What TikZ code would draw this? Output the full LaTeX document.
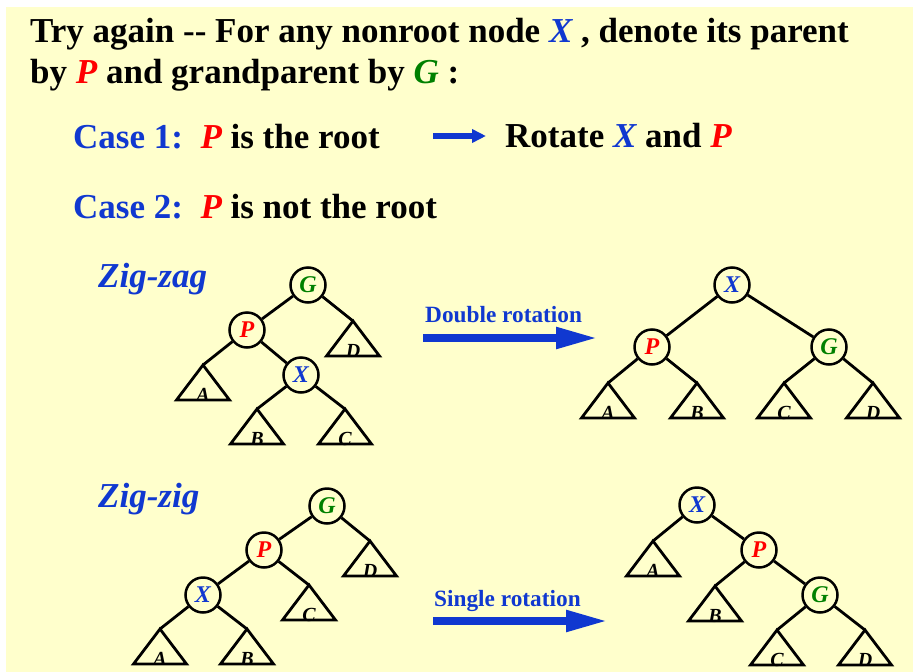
\documentclass[tikz,border=0pt]{standalone}
\usepackage{fontspec}
\setmainfont{Liberation Serif}
\usetikzlibrary{arrows.meta,positioning}
\definecolor{slideyellow}{RGB}{255,255,204}
\definecolor{caseblue}{RGB}{16,56,208}
\definecolor{pred}{RGB}{255,0,0}
\definecolor{ggreen}{RGB}{0,128,0}
\newcommand{\vX}{{\color{caseblue}\itshape X}}
\newcommand{\vP}{{\color{pred}\itshape P}}
\newcommand{\vG}{{\color{ggreen}\itshape G}}
% subtree triangle: name, apex, label
\newcommand{\subtri}[3]{%
  \coordinate (#1) at #2;
  \draw[tline] (#1) -- ++(-26.5,35) -- ++(53,0) -- cycle;
  \path (#1) ++(0,36) node[tlab] (#1-lab) {#3};
}

\begin{document}
\begin{tikzpicture}[x=1pt, y=-1pt,
  txt/.style={anchor=base west, inner sep=0pt, font=\bfseries\fontsize{35}{42}\selectfont},
  zlab/.style={anchor=base west, inner sep=0pt, text=caseblue, font=\bfseries\itshape\fontsize{35}{42}\selectfont},
  vtx/.style={circle, draw, line width=2.5pt, minimum size=35pt, inner sep=0pt, font=\bfseries\itshape\fontsize{24}{24}\selectfont},
  tline/.style={line width=2.8pt},
  tlab/.style={anchor=base, inner sep=0pt, font=\bfseries\itshape\fontsize{20}{20}\selectfont},
  rot/.style={draw=caseblue, line width=8pt, -{Triangle[length=42pt,width=20pt]}},
  rotlab/.style={anchor=base west, inner sep=0pt, text=caseblue, font=\bfseries\fontsize{23.3}{28}\selectfont},
]
\useasboundingbox (0,0) rectangle (913,672);
\fill[white] (0,0) rectangle (913,672);
\fill[slideyellow] (6,7) rectangle (913,672);

\node[txt] (title1) at (30,42) {Try again -{}- For any nonroot node \vX\ , denote its parent};
\node[txt] (title2) at (30,83) {by \vP\ and grandparent by \vG\ :};
\node[txt] (case1) at (73,148) {{\color{caseblue}Case 1:}\ \ \vP\ is the root};
\coordinate (c1s) at (433,136);
\coordinate (c1e) at (486,136);
\draw[draw=caseblue, line width=6pt, -{Triangle[length=14pt,width=13pt]}] (c1s) -- (c1e);
\node[txt] (rotxp) at (505,147) {Rotate \vX\ and \vP};
\node[txt] (case2) at (73,218) {{\color{caseblue}Case 2:}\ \ \vP\ is not the root};

% zig-zag
\node[zlab] (zzlab) at (98,287) {Zig-zag};
\node[vtx] (zzG) at (308,285) {\vG};
\node[vtx] (zzP) at (247,330) {\vP};
\node[vtx] (zzX) at (301,375) {\vX};
\subtri{zzD}{(353,321)}{D}
\subtri{zzA}{(203,365)}{A}
\subtri{zzB}{(257,409)}{B}
\subtri{zzC}{(345,409)}{C}
\draw[tline] (zzG) -- (zzP);
\draw[tline] (zzG) -- (zzD);
\draw[tline] (zzP) -- (zzA);
\draw[tline] (zzP) -- (zzX);
\draw[tline] (zzX) -- (zzB);
\draw[tline] (zzX) -- (zzC);

\coordinate (drs) at (423,338);
\coordinate (dre) at (598,338);
\draw[rot] (drs) -- (dre);
\node[rotlab] (drlab) at (425,322) {Double rotation};

\node[vtx] (dzX) at (732,285) {\vX};
\node[vtx] (dzP) at (652,347) {\vP};
\node[vtx] (dzG) at (829,347) {\vG};
\subtri{dzA}{(608,383)}{A}
\subtri{dzB}{(697,383)}{B}
\subtri{dzC}{(784,383)}{C}
\subtri{dzD}{(873,383)}{D}
\draw[tline] (dzX) -- (dzP);
\draw[tline] (dzX) -- (dzG);
\draw[tline] (dzP) -- (dzA);
\draw[tline] (dzP) -- (dzB);
\draw[tline] (dzG) -- (dzC);
\draw[tline] (dzG) -- (dzD);

% zig-zig
\node[zlab] (zilab) at (98,507) {Zig-zig};
\node[vtx] (ziG) at (327,506) {\vG};
\node[vtx] (ziP) at (264,550) {\vP};
\node[vtx] (ziX) at (203,595) {\vX};
\subtri{ziD}{(370,541)}{D}
\subtri{ziC}{(309,585)}{C}
\subtri{ziA}{(160,629)}{A}
\subtri{ziB}{(247,629)}{B}
\draw[tline] (ziG) -- (ziP);
\draw[tline] (ziG) -- (ziD);
\draw[tline] (ziP) -- (ziX);
\draw[tline] (ziP) -- (ziC);
\draw[tline] (ziX) -- (ziA);
\draw[tline] (ziX) -- (ziB);

\coordinate (srs) at (433,621);
\coordinate (sre) at (608,621);
\draw[rot] (srs) -- (sre);
\node[rotlab] (srlab) at (434,606) {Single rotation};

\node[vtx] (srX) at (697,505) {\vX};
\node[vtx] (srP) at (759,550) {\vP};
\node[vtx] (srG) at (820,595) {\vG};
\subtri{srA}{(653,541)}{A}
\subtri{srB}{(715,586)}{B}
\subtri{srC}{(777,630)}{C}
\subtri{srD}{(865,630)}{D}
\draw[tline] (srX) -- (srA);
\draw[tline] (srX) -- (srP);
\draw[tline] (srP) -- (srB);
\draw[tline] (srP) -- (srG);
\draw[tline] (srG) -- (srC);
\draw[tline] (srG) -- (srD);
\end{tikzpicture}
\end{document}
